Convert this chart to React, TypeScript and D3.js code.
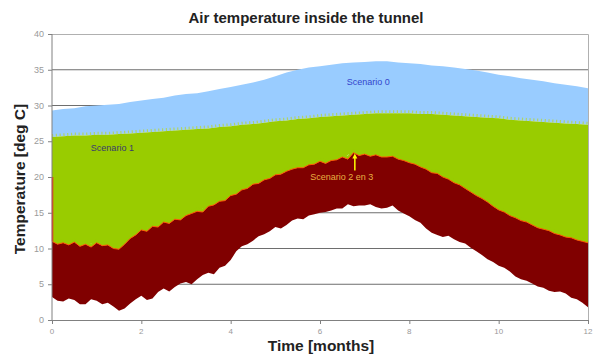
import React, { useEffect, useRef } from 'react';
import * as d3 from 'd3';

// time grids: quarter month for the upper bands, eighth month for scenario 2 en 3
const months = d3.range(0, 12.001, 0.25);
const monthsFine = d3.range(0, 12.001, 0.125);

// upper edge of scenario 0 (light blue)
const scenario0Max = [
    29.3, 29.5, 29.6, 29.9, 30.0, 30.1, 30.2, 30.5, 30.7, 30.9, 31.1, 31.4, 31.6,
    31.7, 32.0, 32.3, 32.6, 32.9, 33.2, 33.6, 34.1, 34.6, 35.0, 35.3, 35.5,
    35.7, 35.9, 36.0, 36.1, 36.2, 36.2, 36.0, 35.9, 35.8, 35.6, 35.5, 35.3,
    35.1, 34.9, 34.6, 34.3, 34.1, 33.8, 33.6, 33.4, 33.1, 32.9, 32.7, 32.4
];

// upper edge of scenario 1 (green)
const scenario1Max = [
    25.6, 25.7, 25.8, 25.8, 25.9, 25.9, 26.0, 26.1, 26.2, 26.3, 26.4, 26.5, 26.6,
    26.7, 26.8, 27.0, 27.1, 27.3, 27.4, 27.6, 27.8, 27.9, 28.1, 28.2, 28.4,
    28.5, 28.6, 28.7, 28.8, 28.9, 28.9, 28.9, 28.9, 28.8, 28.8, 28.7, 28.6,
    28.5, 28.4, 28.3, 28.2, 28.0, 27.9, 27.8, 27.7, 27.6, 27.5, 27.4, 27.3
];

// scenario 2 en 3 (dark red band), one row per month
const scenario2Max = [
    11.0, 10.6, 10.8, 10.5, 10.9, 10.3, 10.6, 10.2,
    10.8, 10.4, 10.5, 10.0, 9.9, 10.6, 11.4, 11.9,
    12.6, 12.4, 13.1, 13.0, 13.7, 13.5, 14.1, 14.0,
    14.6, 14.9, 15.2, 15.1, 15.9, 16.1, 16.6, 16.7,
    17.4, 17.6, 18.2, 18.4, 19.0, 19.1, 19.6, 19.8,
    20.3, 20.4, 20.8, 21.1, 21.3, 21.3, 21.7, 21.8,
    22.2, 21.9, 22.3, 22.4, 22.8, 22.5, 23.4, 23.0,
    23.2, 22.9, 23.1, 22.8, 22.8, 22.9, 22.5, 22.3,
    22.0, 21.8, 21.4, 21.1, 20.6, 20.5, 20.0, 19.7,
    19.2, 18.9, 18.4, 17.9, 17.4, 17.0, 16.5, 15.9,
    15.4, 15.1, 14.6, 14.3, 13.9, 13.7, 13.3, 12.9,
    12.7, 12.5, 12.1, 11.9, 11.6, 11.5, 11.2, 11.0,
    10.8
];
const scenario2Min = [
    3.2, 2.7, 2.6, 3.0, 2.8, 2.2, 2.2, 2.9,
    2.7, 2.2, 2.4, 1.9, 1.3, 1.6, 2.3, 2.9,
    3.4, 2.8, 3.0, 3.9, 4.4, 4.0, 4.6, 5.1,
    5.3, 5.0, 5.7, 6.3, 6.6, 6.4, 7.3, 7.6,
    8.4, 9.6, 10.3, 10.6, 11.1, 11.7, 12.0, 12.4,
    13.0, 12.8, 13.3, 13.9, 14.2, 14.1, 14.6, 14.8,
    15.0, 15.1, 15.3, 15.6, 15.6, 16.2, 15.9, 16.0,
    16.0, 16.2, 15.8, 15.6, 15.7, 16.0, 15.3, 14.9,
    14.5, 14.0, 13.6, 12.8, 12.2, 11.9, 11.6, 11.8,
    11.3, 10.9, 10.7, 10.1, 9.6, 9.1, 8.5, 8.1,
    7.6, 7.3, 6.8, 6.1, 5.7, 5.5, 5.1, 4.7,
    4.5, 4.1, 3.9, 4.0, 3.7, 3.1, 2.9, 2.4,
    1.8
];
// first day of scenario 2 starts high
const scenario2Start = [20, 11];

const yTicks = [0, 5, 10, 15, 20, 25, 30, 35, 40];
const xTicks = [0, 2, 4, 6, 8, 10, 12];

const W = 594;
const H = 358;
const FONT = 'Liberation Sans, Arial, sans-serif';

function App() {
    const ref = useRef(null);

    useEffect(() => {
        const svg = d3.select(ref.current);
        svg.selectAll('*').remove();

        const x = d3.scaleLinear().domain([0, 12]).range([52, 588]);
        const y = d3.scaleLinear().domain([0, 40]).range([320, 34]);

        svg.append('rect').attr('width', W).attr('height', H).attr('fill', '#fff');

        // gridlines
        svg.append('g')
            .selectAll('line')
            .data(yTicks.filter(d => d > 0 && d < 40))
            .enter()
            .append('line')
            .attr('x1', x(0)).attr('x2', x(12))
            .attr('y1', d => y(d)).attr('y2', d => y(d))
            .attr('stroke', '#6e6e6e')
            .attr('stroke-width', 1);

        // plot border top / right
        svg.append('path')
            .attr('d', `M${x(0)},${y(40) + 0.5}H${x(12) + 0.5}V${y(0)}`)
            .attr('fill', 'none')
            .attr('stroke', '#b0b0b0');

        const band = (grid, lo, hi) => d3.area()
            .x((d, i) => x(grid[i]))
            .y0((d, i) => y(lo[i]))
            .y1((d, i) => y(hi[i]));

        svg.append('path')
            .datum(months)
            .attr('d', band(months, scenario1Max, scenario0Max))
            .attr('fill', '#99ccff');

        svg.append('path')
            .datum(months)
            .attr('d', band(months, scenario2Max.filter((d, i) => i % 2 === 0), scenario1Max))
            .attr('fill', '#99cc00');

        svg.append('path')
            .datum(monthsFine)
            .attr('d', band(monthsFine, scenario2Max, scenario2Max.map(d => d + 0.5)))
            .attr('fill', '#99cc00');

        // comb texture poking out of the green band
        svg.append('path')
            .datum(months)
            .attr('d', d3.line().x((d, i) => x(months[i])).y((d, i) => y(scenario1Max[i]) - 1.5))
            .attr('fill', 'none')
            .attr('stroke', '#b0d468')
            .attr('stroke-width', 3)
            .attr('stroke-dasharray', '1.2,2.6');

        svg.append('path')
            .datum(monthsFine)
            .attr('d', band(monthsFine, scenario2Min, scenario2Max))
            .attr('fill', '#800000');

        svg.append('path')
            .datum(monthsFine)
            .attr('d', d3.line().x((d, i) => x(monthsFine[i])).y((d, i) => y(scenario2Max[i])))
            .attr('fill', 'none')
            .attr('stroke', '#ff5a00')
            .attr('stroke-width', 1);

        svg.append('line')
            .attr('x1', x(0) + 0.5).attr('x2', x(0) + 0.5)
            .attr('y1', y(scenario2Start[0])).attr('y2', y(scenario2Start[1]))
            .attr('stroke', '#ff2200')
            .attr('stroke-width', 1.5);

        // axes
        const axisColor = '#808080';
        svg.append('line')
            .attr('x1', x(0)).attr('x2', x(0))
            .attr('y1', y(40)).attr('y2', y(0))
            .attr('stroke', axisColor);
        svg.append('line')
            .attr('x1', x(0)).attr('x2', x(12))
            .attr('y1', y(0) + 0.5).attr('y2', y(0) + 0.5)
            .attr('stroke', axisColor);

        const yt = svg.append('g').selectAll('g').data(yTicks).enter().append('g');
        yt.append('line')
            .attr('x1', x(0) - 4).attr('x2', x(0))
            .attr('y1', d => y(d) + 0.5).attr('y2', d => y(d) + 0.5)
            .attr('stroke', axisColor);
        yt.append('text')
            .attr('x', x(0) - 8)
            .attr('y', d => y(d) + 3)
            .attr('text-anchor', 'end')
            .attr('font-family', FONT)
            .attr('font-size', 9)
            .attr('fill', '#9a9a9a')
            .text(d => d);

        const xt = svg.append('g').selectAll('g').data(xTicks).enter().append('g');
        xt.append('line')
            .attr('x1', d => x(d) + 0.5).attr('x2', d => x(d) + 0.5)
            .attr('y1', y(0)).attr('y2', y(0) + 4)
            .attr('stroke', axisColor);
        xt.append('text')
            .attr('x', d => x(d))
            .attr('y', y(0) + 14)
            .attr('text-anchor', 'middle')
            .attr('font-family', FONT)
            .attr('font-size', 8)
            .attr('fill', '#9a9a9a')
            .text(d => d);

        // titles
        svg.append('text')
            .attr('x', 306).attr('y', 23)
            .attr('text-anchor', 'middle')
            .attr('font-family', FONT)
            .attr('font-weight', 'bold')
            .attr('font-size', 15)
            .attr('fill', '#222')
            .text('Air temperature inside the tunnel');

        svg.append('text')
            .attr('transform', 'translate(25,179) rotate(-90)')
            .attr('text-anchor', 'middle')
            .attr('font-family', FONT)
            .attr('font-weight', 'bold')
            .attr('font-size', 15.5)
            .attr('fill', '#222')
            .text('Temperature [deg C]');

        svg.append('text')
            .attr('x', 321).attr('y', 351)
            .attr('text-anchor', 'middle')
            .attr('font-family', FONT)
            .attr('font-weight', 'bold')
            .attr('font-size', 15.5)
            .attr('fill', '#222')
            .text('Time [months]');

        // series labels
        const lab = (tx, ty, t, c) => svg.append('text')
            .attr('x', tx).attr('y', ty)
            .attr('font-family', FONT)
            .attr('font-size', 9)
            .attr('fill', c)
            .text(t);
        lab(x(6.6), y(32.8), 'Scenario 0', '#3344cc');
        lab(x(0.87), y(23.6), 'Scenario 1', '#3a3a6e');
        lab(x(5.78), y(19.6), 'Scenario 2 en 3', '#e8b040');

        // yellow arrow to the scenario 2 en 3 band
        const ax = x(6.78);
        svg.append('line')
            .attr('x1', ax).attr('x2', ax)
            .attr('y1', y(20.9)).attr('y2', y(22.8))
            .attr('stroke', '#ffff00')
            .attr('stroke-width', 1.5);
        svg.append('path')
            .attr('d', `M${ax - 2.5},${y(22.6)}L${ax},${y(23.3)}L${ax + 2.5},${y(22.6)}Z`)
            .attr('fill', '#ffff00');
    }, []);

    return (
        <div style={{ position: 'fixed', left: 0, top: 0 }}>
            <svg ref={ref} width={W} height={H} style={{ display: 'block' }} />
        </div>
    );
}

export default App;
